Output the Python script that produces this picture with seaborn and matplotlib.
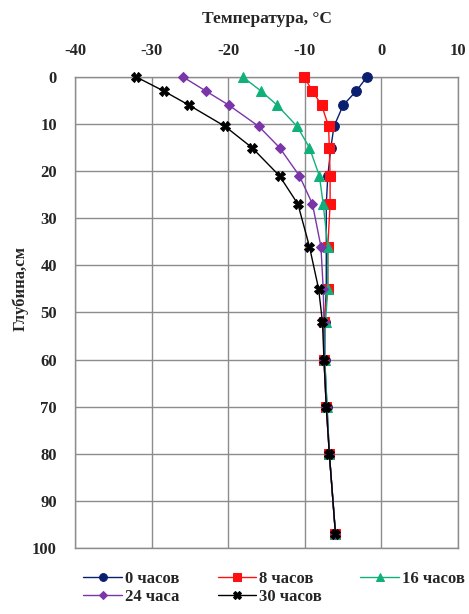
import numpy as np
import pandas as pd
import seaborn as sns
import matplotlib.pyplot as plt

depth = [0, 3, 6, 10.5, 15, 21, 27, 36, 45, 52, 60, 70, 80, 97]
t0 = [-1.9, -3.3, -5.0, -6.2, -6.6, -7.0, -7.2, -7.2, -7.2, -7.4, -7.4, -7.1, -6.8, -6.0]
t8 = [-10.1, -9.0, -7.8, -6.9, -6.8, -6.7, -6.7, -7.0, -7.0, -7.5, -7.5, -7.2, -6.8, -6.0]
t16 = [-18.1, -15.7, -13.6, -11.0, -9.4, -8.1, -7.6, -7.0, -7.0, -7.3, -7.4, -7.1, -6.8, -6.0]
t24 = [-25.9, -22.9, -19.9, -16.0, -13.3, -10.7, -9.0, -7.9, -7.6, -7.5, -7.5, -7.2, -6.8, -6.0]
t30 = [-32.0, -28.4, -25.1, -20.4, -16.9, -13.3, -10.9, -9.4, -8.2, -7.7, -7.5, -7.2, -6.8, -6.0]
labels = ['0 часов', '8 часов', '16 часов', '24 часа', '30 часов']

frames = []
for lab, t in zip(labels, [t0, t8, t16, t24, t30]):
    frames.append(pd.DataFrame({'temp': t, 'depth': depth, 'series': lab}))
df = pd.concat(frames, ignore_index=True)

colors = {'0 часов': '#0a1f6e', '8 часов': '#ff1010', '16 часов': '#10b07c',
          '24 часа': '#7a35a8', '30 часов': '#000000'}
markers = {'0 часов': 'o', '8 часов': 's', '16 часов': '^', '24 часа': 'D', '30 часов': 'X'}
sizes = {'0 часов': 7, '8 часов': 7.5, '16 часов': 7.5, '24 часа': 5.5, '30 часов': 7}

sns.set_style('white')
plt.rcParams['font.family'] = ['Liberation Serif', 'DejaVu Serif']
plt.rcParams['font.weight'] = 'bold'
plt.rcParams['axes.unicode_minus'] = False

fig = plt.figure(figsize=(4.69, 6.14), dpi=100)
ax = fig.add_axes([0.16, 0.1075, 0.8166, 0.7671])

for lab in labels:
    sub = df[df['series'] == lab]
    sns.lineplot(data=sub, x='temp', y='depth', sort=False, estimator=None,
                 color=colors[lab], marker=markers[lab], markersize=sizes[lab],
                 markeredgecolor=colors[lab], linewidth=1.0, label=lab,
                 ax=ax, clip_on=False, zorder=3)

ax.set_xlim(-40, 10)
ax.set_ylim(100, 0)
ax.set_xticks(np.arange(-40, 11, 10))
ax.set_yticks(np.arange(0, 101, 10))
ax.xaxis.tick_top()
ax.xaxis.set_label_position('top')
ax.tick_params(length=0, labelsize=12)
ax.tick_params(axis='x', pad=13)
ax.tick_params(axis='y', pad=13)
for lbl in ax.get_xticklabels() + ax.get_yticklabels():
    lbl.set_fontweight('bold')
ax.grid(True, color='#8c8c8c', linewidth=1)
for s in ax.spines.values():
    s.set_color('#8c8c8c')
    s.set_linewidth(1)

ax.set_xlabel('Температура, °C', fontsize=12.5, fontweight='bold', labelpad=14)
ax.set_ylabel('Глубина,см', fontsize=12, fontweight='bold')
ax.yaxis.set_label_coords(-0.122, 0.552)

h, l = ax.get_legend_handles_labels()
order = [0, 3, 1, 4, 2]
ax.legend([h[i] for i in order], [l[i] for i in order], ncol=3, frameon=False,
          loc='upper center', bbox_to_anchor=(0.52, -0.035), fontsize=12,
          handlelength=2.3, columnspacing=2.3, handletextpad=0.2,
          labelspacing=0.1, borderaxespad=0, markerscale=0.8)

fig.savefig('out.png', dpi=100)
